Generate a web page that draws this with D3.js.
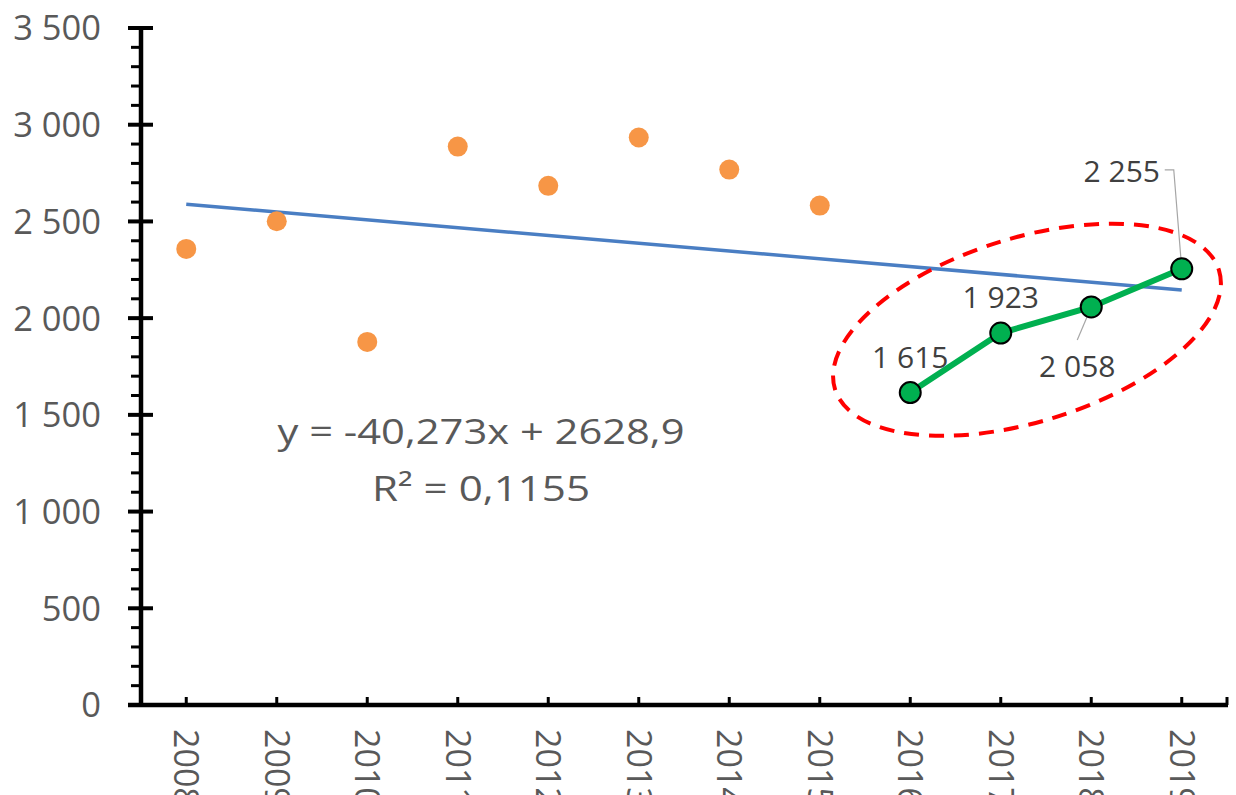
<!DOCTYPE html>
<html>
<head>
<meta charset="utf-8">
<script src="https://cdn.jsdelivr.net/npm/d3@7"></script>
<style>
  html, body { margin: 0; padding: 0; background: #fff; }
  svg { display: block; }
  text { font-family: "Open Sans", "Noto Sans", sans-serif; }
</style>
</head>
<body>
<svg id="chart" width="1236" height="795"></svg>
<script>
// ---- data ----
const years = ["2008","2009","2010","2011","2012","2013","2014","2015","2016","2017","2018","2019"];
const pastYears = ["2008","2009","2010","2011","2012","2013","2014","2015"];
const pastValues = [2358, 2501, 1877, 2887, 2684, 2934, 2768, 2582];
const recentYears = ["2016","2017","2018","2019"];
const recentValues = [1615, 1923, 2058, 2255];
const yTicks = [0, 500, 1000, 1500, 2000, 2500, 3000, 3500];
const trendSlope = -40.273;
const trendIntercept = 2628.9;
const equationLines = ["y = -40,273x + 2628,9", "R² = 0,1155"];

(function () {
// ---- setup ----
const svg = d3.select("#chart");
const mLeft = 141, mRight = 1227, mTop = 28, mBottom = 705;
const x = d3.scaleBand().domain(years).range([mLeft, mRight]).paddingInner(0).paddingOuter(0);
const xc = d => x(d) + x.bandwidth() / 2;
const y = d3.scaleLinear().domain([0, 3500]).range([mBottom, mTop]);
const fmt = d3.formatLocale({decimal: ",", thousands: " ", grouping: [3], currency: ["", ""]}).format(",d");

// ---- y axis ----
const gy = svg.append("g");
const minor = d3.range(0, 3500, 100).filter(v => v % 500 !== 0);
gy.selectAll("line.minor").data(minor).join("line")
  .attr("x1", mLeft - 10).attr("x2", mLeft)
  .attr("y1", d => y(d)).attr("y2", d => y(d))
  .attr("stroke", "#000").attr("stroke-width", 3);
gy.selectAll("line.major").data(yTicks).join("line")
  .attr("x1", mLeft - 13).attr("x2", mLeft + 12)
  .attr("y1", d => y(d)).attr("y2", d => y(d))
  .attr("stroke", "#000").attr("stroke-width", 4);
gy.selectAll("text").data(yTicks).join("text")
  .attr("x", 101).attr("y", d => y(d))
  .attr("dy", "0.36em")
  .attr("text-anchor", "end")
  .attr("font-size", 34.5)
  .attr("fill", "#595959")
  .text(d => fmt(d));
gy.append("line")
  .attr("x1", mLeft).attr("x2", mLeft)
  .attr("y1", y(3500) - 2).attr("y2", mBottom + 2)
  .attr("stroke", "#000").attr("stroke-width", 4.5);

// ---- x axis ----
const gx = svg.append("g");
gx.append("line")
  .attr("x1", mLeft - 13).attr("x2", mRight + 1)
  .attr("y1", mBottom).attr("y2", mBottom)
  .attr("stroke", "#000").attr("stroke-width", 4.5);
gx.selectAll("line.tick").data(years).join("line")
  .attr("x1", d => xc(d)).attr("x2", d => xc(d))
  .attr("y1", mBottom).attr("y2", mBottom - 8)
  .attr("stroke", "#000").attr("stroke-width", 3);
gx.append("line")
  .attr("x1", mRight).attr("x2", mRight)
  .attr("y1", mBottom).attr("y2", mBottom - 8)
  .attr("stroke", "#000").attr("stroke-width", 3);
gx.selectAll("text").data(years).join("text")
  .attr("transform", d => `translate(${xc(d)},${mBottom + 24}) rotate(90)`)
  .attr("dy", "0.36em")
  .attr("text-anchor", "start")
  .attr("font-size", 34)
  .attr("fill", "#595959")
  .text(d => d);

// ---- trend line ----
const trendX = [years[0], years[years.length - 1]];
svg.append("line")
  .attr("x1", xc(trendX[0])).attr("y1", y(trendIntercept + trendSlope * 1))
  .attr("x2", xc(trendX[1])).attr("y2", y(trendIntercept + trendSlope * years.length))
  .attr("stroke", "#4A7EC3").attr("stroke-width", 3.5);

// ---- orange points ----
svg.selectAll("circle.past").data(pastYears.map((d, i) => [d, pastValues[i]])).join("circle")
  .attr("cx", d => xc(d[0])).attr("cy", d => y(d[1])).attr("r", 10)
  .attr("fill", "#F79646");

// ---- red dashed ellipse (annotation around the recent series) ----
const ecx = xc("2017") + 0.29 * x.step();
const ecy = y(1940);
svg.append("ellipse")
  .attr("cx", 0).attr("cy", 0).attr("rx", 201).attr("ry", 92)
  .attr("transform", `translate(${ecx},${ecy}) rotate(-17.2)`)
  .attr("fill", "none").attr("stroke", "#FF0000").attr("stroke-width", 4)
  .attr("stroke-dasharray", "15 10");

// ---- green line ----
const recent = recentYears.map((d, i) => [d, recentValues[i]]);
svg.append("path").datum(recent)
  .attr("d", d3.line().x(d => xc(d[0])).y(d => y(d[1])))
  .attr("fill", "none").attr("stroke", "#00B050").attr("stroke-width", 6);

// leader lines
svg.append("polyline")
  .attr("points", `${xc("2019") - 17},${y(2255) - 99} ${xc("2019") - 8},${y(2255) - 99} ${xc("2019")},${y(2255)}`)
  .attr("fill", "none").attr("stroke", "#A6A6A6").attr("stroke-width", 1.2);
svg.append("line")
  .attr("x1", xc("2018") - 14).attr("y1", y(2058) + 33)
  .attr("x2", xc("2018")).attr("y2", y(2058))
  .attr("stroke", "#A6A6A6").attr("stroke-width", 1.2);

svg.selectAll("circle.recent").data(recent).join("circle")
  .attr("cx", d => xc(d[0])).attr("cy", d => y(d[1])).attr("r", 10.5)
  .attr("fill", "#00B050").attr("stroke", "#000").attr("stroke-width", 2);

// data labels
const labelOffsets = { "2016": [0, -25], "2017": [0, -25], "2018": [-14, 70], "2019": [-60, -87] };
svg.selectAll("text.lbl").data(recent).join("text")
  .attr("x", d => xc(d[0]) + labelOffsets[d[0]][0])
  .attr("y", d => y(d[1]) + labelOffsets[d[0]][1])
  .attr("text-anchor", "middle")
  .attr("font-size", 30)
  .attr("fill", "#404040")
  .text(d => fmt(d[1]));

// ---- equation ----
const eqWidths = [407, 218];
svg.selectAll("text.eq").data(equationLines).join("text")
  .attr("x", 481).attr("y", (d, i) => 444 + i * 57)
  .attr("text-anchor", "middle")
  .attr("font-size", 35)
  .attr("textLength", (d, i) => eqWidths[i])
  .attr("lengthAdjust", "spacingAndGlyphs")
  .attr("fill", "#595959")
  .text(d => d);
})();
</script>
</body>
</html>
